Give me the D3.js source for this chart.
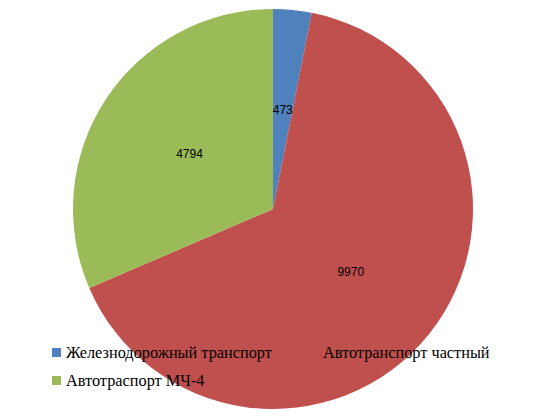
<!DOCTYPE html>
<html><head><meta charset="utf-8">
<script src="https://cdn.jsdelivr.net/npm/d3@7"></script>
<style>html,body{margin:0;padding:0;background:#fff;}</style>
</head><body>
<svg id="c" width="547" height="418"></svg>
<script>
const categories = ["Железнодорожный транспорт", "Автотранспорт частный", "Автотраспорт МЧ-4"];
const values = [473, 9970, 4794];
const colors = ["#4F81BD", "#C0504D", "#9BBB59"];

const svg = d3.select("#c");
const cx = 273, cy = 209, r = 200;
const g = svg.append("g").attr("transform", `translate(${cx},${cy})`);
const pie = d3.pie().sort(null).value(d => d.v);
const data = pie(categories.map((c, i) => ({c, v: values[i], col: colors[i]})));
const arc = d3.arc().innerRadius(0).outerRadius(r);
g.selectAll("path").data(data).join("path")
  .attr("d", arc).attr("fill", d => d.data.col);
g.selectAll("text").data(data).join("text")
  .attr("transform", d => `translate(${arc.centroid(d)})`)
  .attr("text-anchor", "middle").attr("dy", "0.35em")
  .attr("font-family", "Liberation Sans, Arial, sans-serif").attr("font-size", 12)
  .attr("fill", "#000").text(d => d.data.v);

// legend
const legPos = [[52, 348], [309, 348], [52, 376]];
const leg = svg.append("g");
categories.forEach((c, i) => {
  leg.append("rect").attr("x", legPos[i][0]).attr("y", legPos[i][1]).attr("width", 9).attr("height", 9).attr("fill", colors[i]);
  leg.append("text").attr("x", legPos[i][0] + 14).attr("y", legPos[i][1] + 10)
    .attr("font-family", "Liberation Serif, Times New Roman, serif").attr("font-size", 16.3)
    .attr("fill", "#000").text(c);
});
</script>
</body></html>
